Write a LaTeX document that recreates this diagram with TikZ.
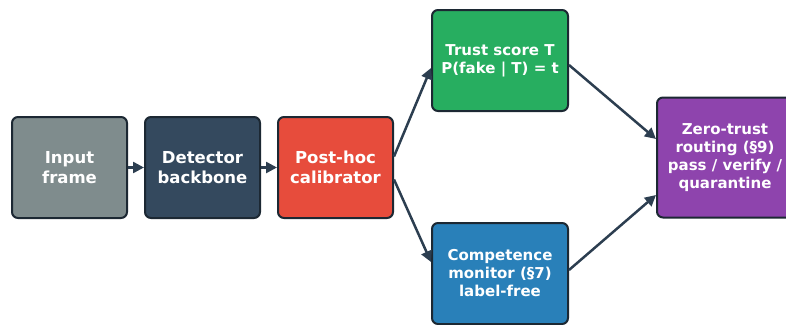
\documentclass[tikz,border=0pt]{standalone}
\usepackage{fontspec}
\setmainfont{DejaVu Sans}
\usetikzlibrary{arrows.meta}

\definecolor{edgecol}{HTML}{1C2833}
\definecolor{arrowcol}{HTML}{2C3E50}
\definecolor{inputcol}{HTML}{7F8C8D}
\definecolor{backbonecol}{HTML}{34495E}
\definecolor{calibcol}{HTML}{E74C3C}
\definecolor{trustcol}{HTML}{27AE60}
\definecolor{monitorcol}{HTML}{2980B9}
\definecolor{routecol}{HTML}{8E44AD}

\begin{document}
\begin{tikzpicture}[x=1pt, y=-1pt,
	block/.style={draw=edgecol, line width=2pt, rounded corners=6pt, text=white,
		align=center, inner sep=2pt, minimum width=115pt, minimum height=101pt,
		font=\bfseries\fontsize{16.5}{20}\selectfont},
	smalltext/.style={font=\bfseries\fontsize{15}{18}\selectfont},
	link/.style={draw=arrowcol, line width=2.5pt, -{Triangle[length=11pt,width=11pt]}}]

	\useasboundingbox (0,0) rectangle (786,324);

	% main pipeline
	\node[block, fill=inputcol]    (input)  at (69.5,167.5)  {Input\\frame};
	\node[block, fill=backbonecol] (det)    at (202.5,167.5) {Detector\\backbone};
	\node[block, fill=calibcol]    (calib)  at (335.5,167.5) {Post-hoc\\calibrator};

	% two branches and the router
	\node[block, smalltext, fill=trustcol, minimum width=136pt]   (trust)   at (500,60.5)  {Trust score T\\P(fake | T) = t};
	\node[block, smalltext, fill=monitorcol, minimum width=136pt] (monitor) at (500,273.5) {Competence\\monitor (§7)\\label-free};
	\node[block, smalltext, fill=routecol, minimum width=136pt, minimum height=120pt] (route) at (725,157.5) {Zero-trust\\routing (§9)\\pass / verify /\\quarantine};

	\draw[link] (input) -- (det);
	\draw[link] (det) -- (calib);
	\draw[link] ([yshift=11pt]calib.east) -- ([yshift=-7.5pt]trust.west);
	\draw[link] ([yshift=-12pt]calib.east) -- ([yshift=11.5pt]monitor.west);
	\draw[link] ([yshift=-4.5pt]trust.east) -- ([yshift=18.5pt]route.west);
	\draw[link] ([yshift=3.5pt]monitor.east) -- ([yshift=-37.5pt]route.west);

\end{tikzpicture}
\end{document}
